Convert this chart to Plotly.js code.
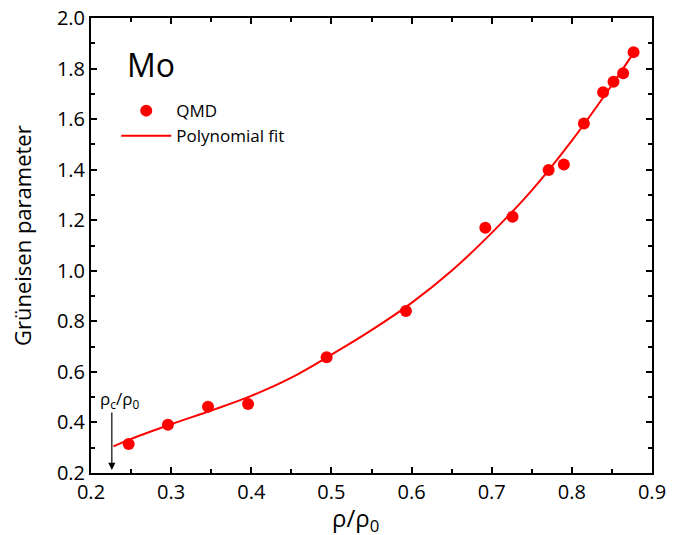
<!DOCTYPE html>
<html>
<head>
<meta charset="utf-8">
<script src="https://cdn.plot.ly/plotly-3.0.1.min.js"></script>
<style>html,body{margin:0;padding:0;background:#fff;}#chart{width:684px;height:535px;}</style>
</head>
<body>
<div id="chart"></div>
<script>
// QMD data points
const qmdX = [0.247, 0.296, 0.346, 0.396, 0.494, 0.593, 0.692, 0.726, 0.771, 0.790, 0.815, 0.839, 0.852, 0.864, 0.877];
const qmdY = [0.315, 0.391, 0.462, 0.473, 0.658, 0.841, 1.170, 1.214, 1.399, 1.420, 1.583, 1.706, 1.748, 1.781, 1.865];
// Polynomial fit curve
const fitX = [0.228, 0.25, 0.30, 0.35, 0.40, 0.45, 0.50, 0.55, 0.60, 0.65, 0.70, 0.75, 0.80, 0.85, 0.877];
const fitY = [0.305, 0.335, 0.393, 0.447, 0.505, 0.577, 0.668, 0.765, 0.873, 1.000, 1.150, 1.318, 1.515, 1.735, 1.862];
// critical density marker
const rhoC = 0.226;
const xTicks = [0.2, 0.3, 0.4, 0.5, 0.6, 0.7, 0.8, 0.9];
const yTicks = [0.2, 0.4, 0.6, 0.8, 1.0, 1.2, 1.4, 1.6, 1.8, 2.0];

const font = 'Open Sans, Noto Sans, sans-serif';
const traces = [
  {x: qmdX, y: qmdY, mode: 'markers', type: 'scatter', name: 'QMD',
   marker: {color: '#ff0000', size: 12}},
  {x: fitX, y: fitY, mode: 'lines', type: 'scatter', name: 'Polynomial fit',
   line: {color: '#ff0000', width: 2, shape: 'spline', smoothing: 1}}
];
const axisCommon = {
  showline: true, linecolor: '#000', linewidth: 2, mirror: 'allticks',
  ticks: 'inside', ticklen: 6, tickwidth: 2, tickcolor: '#000',
  showgrid: false, zeroline: false,
  tickfont: {family: font, size: 20, color: '#000'},
  minor: {ticks: 'inside', ticklen: 4, tickwidth: 2, tickcolor: '#000', showgrid: false}
};
const layout = {
  width: 684, height: 535,
  margin: {l: 91, r: 32, t: 18, b: 62},
  paper_bgcolor: '#fff', plot_bgcolor: '#fff',
  showlegend: true,
  legend: {x: 0.045, y: 0.835, xanchor: 'left', yanchor: 'top', bgcolor: 'rgba(0,0,0,0)',
           font: {family: font, size: 17, color: '#000'}, tracegroupgap: 0, itemwidth: 50},
  xaxis: Object.assign({}, axisCommon, {
    range: [0.2, 0.9], tickvals: xTicks, ticktext: xTicks.map(v => v.toFixed(1)),
    minor: Object.assign({}, axisCommon.minor, {dtick: 0.05})
  }),
  yaxis: Object.assign({}, axisCommon, {
    range: [0.2, 2.0], tickvals: yTicks, ticktext: yTicks.map(v => v.toFixed(1)),
    minor: Object.assign({}, axisCommon.minor, {dtick: 0.1})
  }),
  annotations: [
    {xref: 'paper', yref: 'paper', x: 0.471, y: -0.1, xanchor: 'center', yanchor: 'middle',
     text: 'ρ/ρ<sub>0</sub>', showarrow: false, font: {family: font, size: 24, color: '#000'}},
    {xref: 'paper', yref: 'paper', x: -0.123, y: 0.523, xanchor: 'center', yanchor: 'middle',
     textangle: -90, text: 'Grüneisen parameter', showarrow: false,
     font: {family: font, size: 22, color: '#000'}},
    {xref: 'paper', yref: 'paper', x: 0.061, y: 0.898, xanchor: 'left', yanchor: 'middle',
     text: 'Mo', showarrow: false, font: {family: font, size: 32, color: '#000'}},
    {xref: 'x', yref: 'y', x: rhoC, y: 0.212, ax: 0, ay: -59, text: '',
     showarrow: true, arrowhead: 2, arrowsize: 1.2, arrowwidth: 1.2, arrowcolor: '#000'},
    {xref: 'x', yref: 'y', x: 0.235, y: 0.492, xanchor: 'center', yanchor: 'middle',
     text: 'ρ<sub>c</sub>/ρ<sub>0</sub>', showarrow: false, font: {family: font, size: 17, color: '#000'}}
  ]
};
Plotly.newPlot('chart', traces, layout, {displayModeBar: false, staticPlot: true});
</script>
</body>
</html>
